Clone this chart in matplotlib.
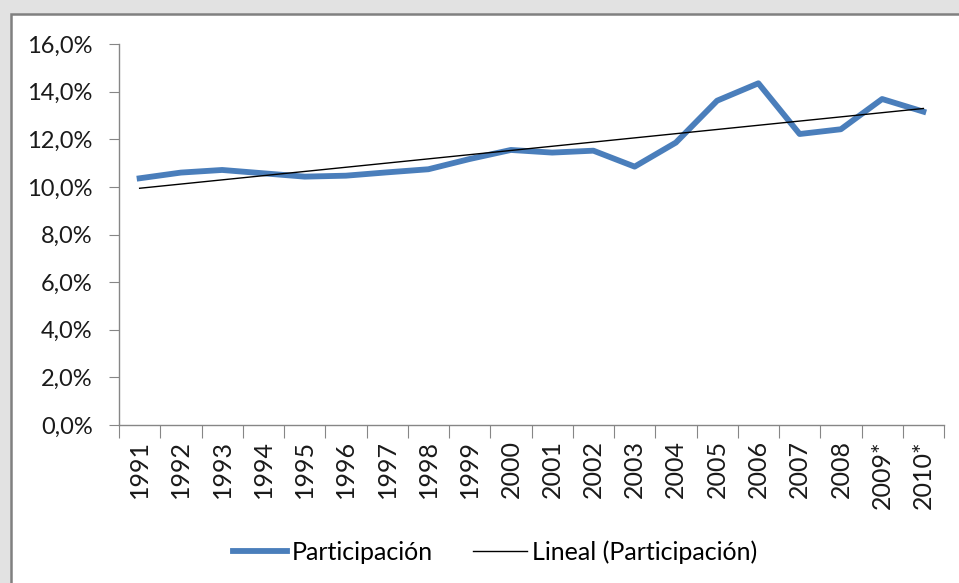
import numpy as np
import matplotlib
matplotlib.use("Agg")
from matplotlib import pyplot as plt
from matplotlib.patches import Rectangle
from matplotlib.ticker import FuncFormatter, FixedLocator, NullFormatter

years = ["1991", "1992", "1993", "1994", "1995", "1996", "1997", "1998", "1999", "2000",
         "2001", "2002", "2003", "2004", "2005", "2006", "2007", "2008", "2009*", "2010*"]
participacion = [10.36, 10.60, 10.71, 10.57, 10.43, 10.47, 10.61, 10.74, 11.17, 11.55,
                 11.44, 11.52, 10.85, 11.86, 13.62, 14.35, 12.22, 12.42, 13.69, 13.16]
yticks = [0, 2, 4, 6, 8, 10, 12, 14, 16]

plt.rcParams['font.family'] = ['Lato', 'DejaVu Sans']

fig = plt.figure(figsize=(9.59, 5.83), dpi=100, facecolor="#e2e2e2")
fig.patches.append(Rectangle((11/959, -0.1), 1.1, 1 - 14/583 + 0.1, transform=fig.transFigure,
                             facecolor="white", edgecolor="#808080", linewidth=1.8, zorder=-1))

ax = fig.add_axes([119/959, 158/583, 825/959, 381/583])
ax.set_facecolor("none")

x = np.arange(len(years))
y = np.array(participacion) / 100
ax.plot(x, y, color="#4a7ebb", linewidth=4.2, solid_joinstyle="round", label="Participación", zorder=3)

# linea de tendencia (ajuste lineal)
k, b = np.polyfit(x, y, 1)
ax.plot(x, k * x + b, color="black", linewidth=1.0, label="Lineal (Participación)", zorder=4)

ax.set_xlim(-0.5, len(years) - 0.5)
ax.set_ylim(0, 0.16)

ax.set_yticks([v / 100 for v in yticks])
ax.yaxis.set_major_formatter(FuncFormatter(lambda v, p: ("%.1f%%" % (v * 100)).replace(".", ",")))

ax.xaxis.set_major_locator(FixedLocator(np.arange(-0.5, len(years), 1.0)))
ax.xaxis.set_major_formatter(NullFormatter())
ax.xaxis.set_minor_locator(FixedLocator(x))
ax.set_xticklabels(years, minor=True, rotation=90)

for s in ["top", "right"]:
    ax.spines[s].set_visible(False)
for s in ["left", "bottom"]:
    ax.spines[s].set_color("#868686")
    ax.spines[s].set_linewidth(1.0)

ax.tick_params(axis="y", length=7, color="#868686", labelsize=17, pad=12, labelcolor="#1a1a1a")
ax.tick_params(axis="x", which="major", length=9, color="#868686")
ax.tick_params(axis="x", which="minor", length=0, labelsize=18, pad=11, labelcolor="#1a1a1a")

fig.legend(loc="center", bbox_to_anchor=(0.516, 0.053), ncol=2, frameon=False,
           fontsize=18, handlelength=2.15, handletextpad=0.2, columnspacing=1.6)

fig.savefig("out.png", dpi=100, facecolor=fig.get_facecolor())
